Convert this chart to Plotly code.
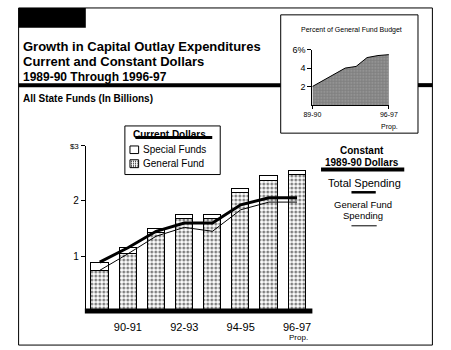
import plotly.graph_objects as go

# ---- data ----
years = ["89-90", "90-91", "91-92", "92-93", "93-94", "94-95", "95-96", "96-97"]
general_fund = [0.73, 1.04, 1.42, 1.67, 1.68, 2.15, 2.37, 2.47]
special_funds = [0.14, 0.10, 0.07, 0.07, 0.06, 0.06, 0.08, 0.08]
const_total = [0.89, 1.15, 1.45, 1.60, 1.60, 1.93, 2.06, 2.06]
const_general = [0.74, 1.04, 1.36, 1.52, 1.45, 1.84, 1.98, 1.98]
pct_gf_budget = [2.0, 2.64, 3.36, 4.0, 4.18, 5.14, 5.36, 5.46]
main_tick_years = ["90-91", "92-93", "94-95", "96-97"]
y_tick_vals = [1, 2, 3]
y_tick_text = ["1", "2", "<span style='font-size:8px'>$3</span>"]
inset_tick_vals = [2, 4, 6]
inset_tick_text = ["2", "4", "6%"]
inset_x_ticks = ["89-90", "96-97"]

W, H = 451, 350
FONT = "Arial, Liberation Sans, sans-serif"


def X(px):
    return px / W


def Y(py):
    return 1 - py / H


fig = go.Figure()

fig.add_trace(go.Bar(
    x=years, y=general_fund, name="General Fund", width=0.61,
    marker=dict(color="white", line=dict(color="black", width=1),
                pattern=dict(shape=".", fgcolor="black", bgcolor="white", size=4, solidity=0.45)),
    showlegend=False,
))
fig.add_trace(go.Bar(
    x=years, y=special_funds, name="Special Funds", width=0.61,
    marker=dict(color="white", line=dict(color="black", width=1)),
    showlegend=False,
))
fig.add_trace(go.Scatter(
    x=years, y=const_general, mode="lines", line=dict(color="black", width=1),
    showlegend=False,
))
fig.add_trace(go.Scatter(
    x=years, y=const_total, mode="lines", line=dict(color="black", width=3),
    showlegend=False,
))
# inset
fig.add_trace(go.Scatter(
    x=years, y=pct_gf_budget, mode="lines", line=dict(color="black", width=1),
    fill="tozeroy", fillcolor="#8a8a8a",
    fillpattern=dict(shape=".", fgcolor="black", bgcolor="white", size=3, solidity=0.85),
    xaxis="x2", yaxis="y2", showlegend=False,
))


def pline(x0, x1, y0, y1, width, dash="solid"):
    return dict(type="line", xref="paper", yref="paper", x0=X(x0), x1=X(x1), y0=Y(y0), y1=Y(y1),
                line=dict(color="black", width=width, dash=dash))


def prect(x0, x1, y0, y1, width=1, fill=None):
    d = dict(type="rect", xref="paper", yref="paper", x0=X(x0), x1=X(x1), y0=Y(y0), y1=Y(y1),
             line=dict(color="black", width=width))
    if fill:
        d["fillcolor"] = fill
    return d


shapes = [
    prect(10, 441, 3, 345),
    dict(type="rect", xref="paper", yref="paper", x0=X(10), x1=X(80), y0=Y(3), y1=Y(23),
         line=dict(width=0), fillcolor="black"),
    pline(10, 283, 81.3, 81.3, 4),
    pline(426, 441, 81.3, 81.3, 4),
    prect(283, 426, 10, 130),
    # main baseline
    pline(79, 316, 310.5, 310.5, 5),
    # current dollars legend
    prect(120.7, 220, 122.7, 172),
    pline(131.7, 211.7, 134.3, 134.3, 3),
    prect(126, 135, 143, 150.7),
    prect(126, 135, 157, 165),
    pline(127, 134, 158.5, 158.5, 1, "1px,1px"),
    pline(127, 134, 160.5, 160.5, 1, "1px,1px"),
    pline(127, 134, 162.5, 162.5, 1, "1px,1px"),
    pline(127, 134, 164.2, 164.2, 1, "1px,1px"),
    # constant dollars legend
    pline(325, 411.7, 167, 167, 4),
    pline(356.7, 382, 190, 190, 2.5),
    pline(356.7, 383, 224, 224, 1),
]


def ann(text, x, y, size, bold=False, xanchor="left"):
    return dict(text=("<b>%s</b>" % text) if bold else text, x=X(x), y=Y(y), xref="paper", yref="paper",
                xanchor=xanchor, yanchor="middle", showarrow=False,
                font=dict(family=FONT, size=size, color="black"))


annotations = [
    ann("Growth in Capital Outlay Expenditures", 13, 42, 13, True),
    ann("Current and Constant Dollars", 13, 57, 13, True),
    ann("1989-90 Through 1996-97", 13, 73, 12, True),
    ann("All State Funds (In Billions)", 13, 95, 10, True),
    ann("Percent of General Fund Budget", 302, 25, 7),
    ann("Prop.", 396, 124, 7, xanchor="center"),
    ann("Prop.", 302, 337, 8, xanchor="center"),
    ann("Current Dollars", 167, 131, 10, True, "center"),
    ann("Special Funds", 137, 147, 10),
    ann("General Fund", 137, 161, 10),
    ann("Constant", 368, 148, 10, True, "center"),
    ann("1989-90 Dollars", 368, 160, 10, True, "center"),
    ann("Total Spending", 370, 181, 11, False, "center"),
    ann("General Fund", 369, 202, 9.5, False, "center"),
    ann("Spending", 369, 214, 9.5, False, "center"),
]

fig.update_layout(
    width=W, height=H, margin=dict(l=0, r=0, t=0, b=0),
    paper_bgcolor="white", plot_bgcolor="rgba(0,0,0,0)",
    barmode="stack", bargap=0,
    font=dict(family=FONT, color="black"),
    showlegend=False,
    xaxis=dict(domain=[X(80), X(316)], type="category", range=[-0.494, 7.544],
               tickvals=main_tick_years, ticktext=main_tick_years,
               ticks="outside", ticklen=6, tickcolor="rgba(0,0,0,0)",
               showline=False, showgrid=False, zeroline=False,
               tickfont=dict(family=FONT, size=11)),
    yaxis=dict(domain=[Y(310.5), Y(143)], range=[0, 3], tickvals=y_tick_vals, ticktext=y_tick_text,
               ticks="outside", ticklen=4, tickcolor="black", showline=True, linecolor="black", linewidth=1,
               showgrid=False, zeroline=False, tickfont=dict(family=FONT, size=10)),
    xaxis2=dict(domain=[X(316), X(395.7)], anchor="y2", type="category", range=[0, 7],
                tickvals=inset_x_ticks, ticktext=inset_x_ticks, ticks="outside", ticklen=3,
                tickcolor="black", showline=True, linecolor="black", linewidth=1,
                showgrid=False, zeroline=False, tickfont=dict(family=FONT, size=7)),
    yaxis2=dict(domain=[Y(101.4), Y(45.3)], anchor="x2", range=[0, 6],
                tickvals=inset_tick_vals, ticktext=inset_tick_text, ticks="outside", ticklen=4,
                tickcolor="black", showline=True, linecolor="black", linewidth=1,
                showgrid=False, zeroline=False, tickfont=dict(family=FONT, size=9)),
    shapes=shapes, annotations=annotations,
)

fig.write_html("out.html", config={"displayModeBar": False})
